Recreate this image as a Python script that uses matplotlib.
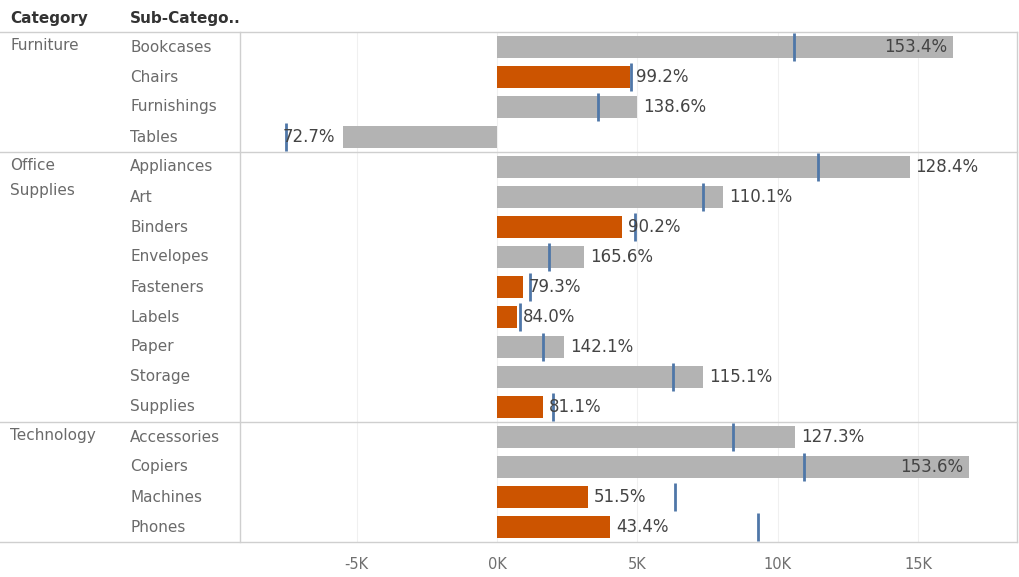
import matplotlib
matplotlib.use("Agg")
import matplotlib.pyplot as plt
from matplotlib.transforms import blended_transform_factory

categories = ["Furniture", "Office\nSupplies", "Technology"]
category_sizes = [4, 9, 4]
sub_categories = ["Bookcases", "Chairs", "Furnishings", "Tables",
                  "Appliances", "Art", "Binders", "Envelopes", "Fasteners",
                  "Labels", "Paper", "Storage", "Supplies",
                  "Accessories", "Copiers", "Machines", "Phones"]
# profit (K) and target (K)
profit = [16.25, 4.74, 4.99, -5.49,
          14.71, 8.05, 4.45, 3.10, 0.93, 0.71, 2.39, 7.34, 1.64,
          10.62, 16.80, 3.24, 4.03]
target = [10.58, 4.78, 3.60, -7.52,
          11.44, 7.34, 4.92, 1.85, 1.18, 0.82, 1.64, 6.27, 2.00,
          8.41, 10.94, 6.34, 9.30]
pct_labels = ["153.4%", "99.2%", "138.6%", "72.7%",
              "128.4%", "110.1%", "90.2%", "165.6%", "79.3%",
              "84.0%", "142.1%", "115.1%", "81.1%",
              "127.3%", "153.6%", "51.5%", "43.4%"]
xticks = [-5, 0, 5, 10, 15]
xtick_labels = ["-5K", "0K", "5K", "10K", "15K"]

W, H = 1019, 577
plt.rcParams["font.family"] = ["DejaVu Sans"]
fig = plt.figure(figsize=(W / 100, H / 100), dpi=100)

ax_l, ax_r, ax_t, ax_b = 240, 1017, 32, 542
ax = fig.add_axes([ax_l / W, 1 - ax_b / H, (ax_r - ax_l) / W, (ax_b - ax_t) / H])

n = len(sub_categories)
ax.set_ylim(n - 0.5, -0.5)
ax.set_xlim(-9.16, 18.52)

GRAY = "#b3b3b3"
ORANGE = "#cc5400"
BLUE = "#4f77a8"
LINE = "#cfcfcf"

for x in xticks:
    ax.axvline(x, color="#f0f0f0", lw=0.8, zorder=0)

for i, (p, t) in enumerate(zip(profit, target)):
    color = ORANGE if p < t else GRAY
    ax.barh(i, p, height=0.73, color=color, zorder=2)
    ax.plot([t, t], [i - 0.47, i + 0.47], color=BLUE, lw=2, zorder=3,
            solid_capstyle="butt")
    lab = pct_labels[i]
    kw = dict(textcoords="offset points", va="center", fontsize=12,
              color="#444444", zorder=4)
    if p < 0:
        ax.annotate(lab, (p, i), xytext=(-6, 0), ha="right", **kw)
    elif p > 15.5:
        ax.annotate(lab, (p, i), xytext=(-4, 0), ha="right", **kw)
    else:
        ax.annotate(lab, (p, i), xytext=(4, 0), ha="left", **kw)

ax.set_xticks(xticks)
ax.set_xticklabels(xtick_labels, color="#707070", fontsize=10.5)
ax.tick_params(axis="x", length=0, pad=11)
ax.set_yticks([])
for s in ["top", "bottom"]:
    ax.spines[s].set_visible(False)
for s in ["left", "right"]:
    ax.spines[s].set_color(LINE)
    ax.spines[s].set_linewidth(1)

tr = blended_transform_factory(fig.transFigure, ax.transData)

bounds = [-0.5]
acc = -0.5
for s in category_sizes:
    acc += s
    bounds.append(acc)
for b in bounds:
    ax.plot([0, ax_r / W], [b, b], transform=tr, color=LINE, lw=1,
            clip_on=False, zorder=1)

for i, name in enumerate(sub_categories):
    ax.text(130 / W, i, name, transform=tr, ha="left", va="center",
            fontsize=11, color="#6a6a6a")

start = 0
for name, s in zip(categories, category_sizes):
    for k, line in enumerate(name.split("\n")):
        ax.text(10 / W, start - 0.05 + k * 25 / 30, line, transform=tr,
                ha="left", va="center", fontsize=11, color="#6a6a6a")
    start += s

fig.text(10 / W, 1 - 19 / H, "Category", ha="left", va="center",
         fontsize=11, color="#333333", fontweight="semibold")
fig.text(130 / W, 1 - 19 / H, "Sub-Catego..", ha="left", va="center",
         fontsize=11, color="#333333", fontweight="semibold")

fig.savefig("out.png", dpi=100)
